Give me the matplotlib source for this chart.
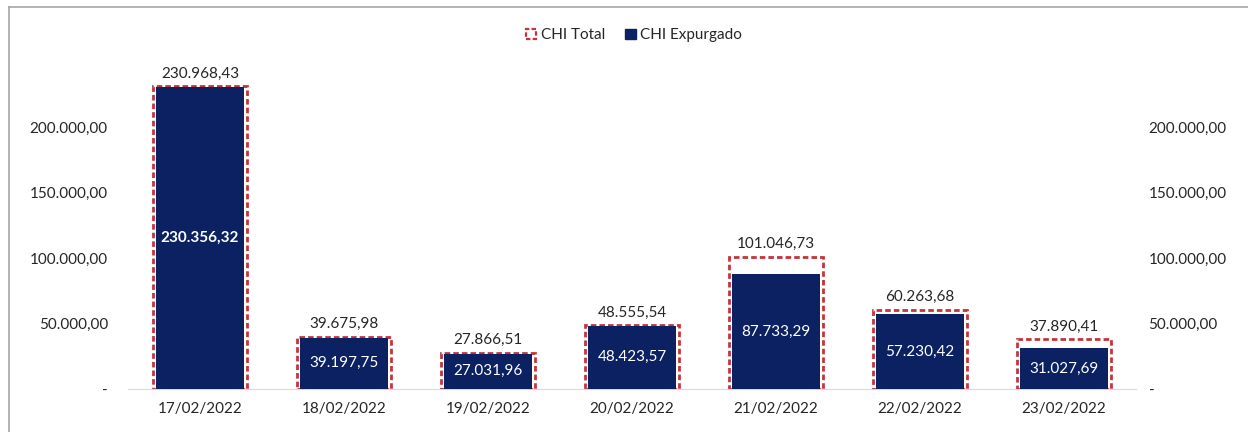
import matplotlib.pyplot as plt
from matplotlib.lines import Line2D
from matplotlib.patches import Rectangle
import numpy as np

plt.rcParams['font.family'] = ['Lato', 'DejaVu Sans']

# Data
dates = ['17/02/2022', '18/02/2022', '19/02/2022', '20/02/2022',
         '21/02/2022', '22/02/2022', '23/02/2022']
chi_total = [230968.43, 39675.98, 27866.51, 48555.54, 101046.73, 60263.68, 37890.41]
chi_expurgado = [230356.32, 39197.75, 27031.96, 48423.57, 87733.29, 57230.42, 31027.69]
yticks = [0, 50000, 100000, 150000, 200000]

navy = '#0b2161'
red = '#c3343a'
text_col = '#262626'
fs = 11


def br_fmt(v):
    if v == 0:
        return '-'
    s = f'{v:,.2f}'
    return s.replace(',', 'X').replace('.', ',').replace('X', '.')


fig = plt.figure(figsize=(12.48, 4.32), dpi=100)
ax = fig.add_axes([0.1026, 0.0995, 0.8077, 0.758])
x = np.arange(len(dates))

# total bars: white with red dashed outline
ax.bar(x, chi_total, width=0.655, facecolor='white', edgecolor=red,
       linewidth=2.0, linestyle=(0, (2.0, 1.1)), zorder=2)
# expurgado bars
ax.bar(x, chi_expurgado, width=0.615, color=navy, zorder=3)

for i in range(len(x)):
    ax.text(x[i], chi_total[i] + 4500, br_fmt(chi_total[i]), ha='center',
            va='bottom', fontsize=fs, color=text_col)
    ax.text(x[i], chi_expurgado[i] / 2, br_fmt(chi_expurgado[i]), ha='center',
            va='center', fontsize=fs, color='white',
            fontweight='bold' if i == 0 else 'normal', zorder=4)

ax.set_xlim(-0.5, len(x) - 0.5)
ax.set_ylim(0, 250000)
ax.set_xticks(x)
ax.set_xticklabels(dates, fontsize=fs, color=text_col)
ax.set_yticks(yticks)
ax.set_yticklabels([br_fmt(v) for v in yticks], fontsize=fs, color=text_col)
ax.tick_params(axis='both', length=0)
ax.tick_params(axis='x', pad=9)
ax.tick_params(axis='y', pad=20)
for sp in ['top', 'left', 'right']:
    ax.spines[sp].set_visible(False)
ax.spines['bottom'].set_color('#d9d9d9')

# secondary axis on the right, same scale
ax2 = ax.twinx()
ax2.set_ylim(ax.get_ylim())
ax2.set_yticks(yticks)
ax2.set_yticklabels([br_fmt(v) for v in yticks], fontsize=fs, color=text_col)
ax2.tick_params(axis='y', length=0, pad=9)
for sp in ax2.spines.values():
    sp.set_visible(False)

# left labels: right-aligned ending near x=108
for lab in ax.get_yticklabels():
    lab.set_x(-0.02)
ax.tick_params(axis='y', pad=0)

# legend
handles = [
    Rectangle((0, 0), 1, 1, facecolor='white', edgecolor=red, linewidth=1.6,
              linestyle=(0, (2, 1))),
    Rectangle((0, 0), 1, 1, facecolor=navy, edgecolor=navy),
]
fig.legend(handles, ['CHI Total', 'CHI Expurgado'], loc='center',
           bbox_to_anchor=(0.508, 0.918), ncol=2, frameon=False, fontsize=fs,
           handlelength=0.7, handleheight=0.7, handletextpad=0.3, columnspacing=1.3,
           labelcolor=text_col)

# outer chart border
fig.add_artist(Line2D([9 / 1248, 1], [1 - 7 / 432, 1 - 7 / 432],
                      color='#a6a6a6', linewidth=1.2, transform=fig.transFigure))
fig.add_artist(Line2D([9 / 1248, 9 / 1248], [0, 1 - 7 / 432],
                      color='#a6a6a6', linewidth=1.2, transform=fig.transFigure))

fig.savefig('out.png', dpi=100)
